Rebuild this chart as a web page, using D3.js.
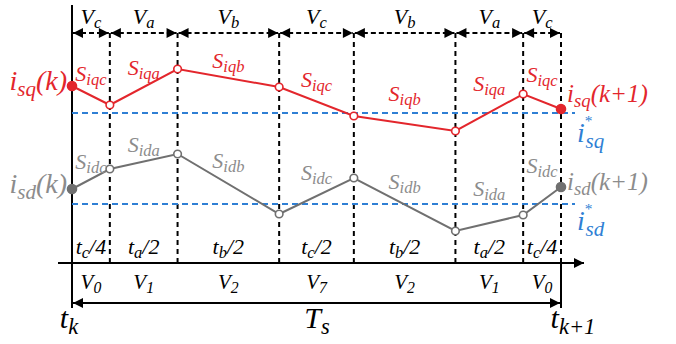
<!DOCTYPE html>
<meta charset="utf-8">
<script src="https://d3js.org/d3.v7.min.js"></script>
<body style="margin:0">
<script>
(function() {

// durations of the seven switching intervals (one period Ts)
var durations = [38, 68, 102, 75, 102, 68, 38];
var activeVec = ["c", "a", "b", "c", "b", "a", "c"];
var timeLabels = [["c", "/4"], ["a", "/2"], ["b", "/2"], ["c", "/2"], ["b", "/2"], ["a", "/2"], ["c", "/4"]];
var vectorLabels = ["0", "1", "2", "7", "2", "1", "0"];

// current values at the interval boundaries
var isqValues = [8.7, 7.75, 9.55, 8.65, 7.2, 6.45, 8.3, 7.55];
var isdValues = [3.55, 4.55, 5.3, 2.3, 4.1, 1.45, 2.25, 3.65];
var isqRef = 7.35,
    isdRef = 2.8;

var W = 676,
    H = 344;

var cRed = "#e3262c",
    cGrey = "#707070",
    cGreyText = "#8c8c8c",
    cBlue = "#2f7fd4";

var bounds = [0];
durations.forEach(function(d, i) { bounds.push(bounds[i] + d); });

var xs = d3.scaleLinear().domain([0, d3.sum(durations)]).range([72, 561]);
var ys = d3.scaleLinear().domain([0, 10]).range([260, 60]);

var svg = d3.select("body").append("svg")
    .attr("width", W)
    .attr("height", H);

var defs = svg.append("defs");
function addMarker(id, orient) {
  defs.append("marker")
      .attr("id", id)
      .attr("viewBox", "0 0 10 10")
      .attr("refX", 10).attr("refY", 5)
      .attr("markerWidth", 12).attr("markerHeight", 10)
      .attr("markerUnits", "userSpaceOnUse")
      .attr("orient", orient)
    .append("path")
      .attr("d", "M0,0L10,5L0,10Z")
      .attr("fill", "#000");
}
addMarker("arr", "auto");
addMarker("arrs", "auto-start-reverse");

// text with sub/superscripts: parts = [[str, kind, dx, style], ...]
function addLabel(px, py, parts, size, color, anchor) {
  var t = svg.append("text")
      .attr("x", px).attr("y", py)
      .attr("fill", color)
      .style("font-family", "Liberation Serif")
      .style("font-style", "italic")
      .attr("font-size", size)
      .attr("text-anchor", anchor || "middle");
  var shift = 0;
  parts.forEach(function(p) {
    var kind = p[1] || "n";
    var target = kind == "sub" ? size * 0.2 : kind == "sup" ? -size * 0.56 : 0;
    var fs = kind == "n" ? size : kind == "sup" ? size * 0.55 : size * 0.75;
    var ts = t.append("tspan")
        .attr("dy", target - shift)
        .style("font-family", "Liberation Serif")
        .style("font-style", p[3] || "italic")
        .attr("font-size", fs)
        .text(p[0]);
    if (p[2]) ts.attr("dx", p[2]);
    shift = target;
  });
  return t;
}

var xTop = 33, xAxisY = 263, tsY = 303, bottomY = 308;

// vertical lines
svg.append("line")
    .attr("x1", xs(0)).attr("x2", xs(0))
    .attr("y1", 5).attr("y2", bottomY)
    .attr("stroke", "#000").attr("stroke-width", 2);

svg.selectAll(".vdash")
    .data(bounds.slice(1))
  .enter().append("line")
    .attr("x1", function(d) { return xs(d); })
    .attr("x2", function(d) { return xs(d); })
    .attr("y1", xTop).attr("y2", xAxisY)
    .attr("stroke", "#000").attr("stroke-width", 2)
    .attr("stroke-dasharray", "5,4");

svg.append("line")
    .attr("x1", xs(bounds[7])).attr("x2", xs(bounds[7]))
    .attr("y1", xAxisY).attr("y2", bottomY)
    .attr("stroke", "#000").attr("stroke-width", 2);

// top interval arrows
svg.selectAll(".seg")
    .data(durations)
  .enter().append("line")
    .attr("x1", function(d, i) { return xs(bounds[i]) + 1; })
    .attr("x2", function(d, i) { return xs(bounds[i + 1]) - 1; })
    .attr("y1", xTop).attr("y2", xTop)
    .attr("stroke", "#000").attr("stroke-width", 2)
    .attr("stroke-dasharray", "5,3")
    .attr("marker-start", "url(#arrs)")
    .attr("marker-end", "url(#arr)");

activeVec.forEach(function(v, i) {
  addLabel(xs(bounds[i] + durations[i] / 2), 24, [["V"], [v, "sub"]], 22, "#000");
});

// reference lines
[isqRef, isdRef].forEach(function(r) {
  svg.append("line")
      .attr("x1", xs(0)).attr("x2", 575)
      .attr("y1", ys(r)).attr("y2", ys(r))
      .attr("stroke", cBlue).attr("stroke-width", 2)
      .attr("stroke-dasharray", "6,4");
});

// current trajectories
function trajectory(vals, color, lw) {
  var pts = vals.map(function(v, i) { return [xs(bounds[i]), ys(v)]; });
  svg.append("path")
      .attr("d", d3.line()(pts))
      .attr("fill", "none")
      .attr("stroke", color).attr("stroke-width", lw);
  svg.selectAll(null)
      .data(pts)
    .enter().append("circle")
      .attr("cx", function(d) { return d[0]; })
      .attr("cy", function(d) { return d[1]; })
      .attr("r", function(d, i) { return (i == 0 || i == pts.length - 1) ? 4.5 : 3.8; })
      .attr("fill", function(d, i) { return (i == 0 || i == pts.length - 1) ? color : "#fff"; })
      .attr("stroke", color).attr("stroke-width", 1.6);
  return pts;
}
var qPts = trajectory(isqValues, cRed, 2);
var dPts = trajectory(isdValues, cGrey, 2);

// slope labels
var qDy = [-15, -12, -10, -15, -23, -22, -20];
var dDy = [-10, -10, -16, -16, -16, -27, -28];
activeVec.forEach(function(v, i) {
  var cx = xs(bounds[i] + durations[i] / 2);
  addLabel(cx, (qPts[i][1] + qPts[i + 1][1]) / 2 + qDy[i], [["S"], ["iq" + v, "sub"]], 22, cRed);
  addLabel(cx, (dPts[i][1] + dPts[i + 1][1]) / 2 + dDy[i], [["S"], ["id" + v, "sub"]], 22, cGreyText);
});

// end point labels
addLabel(67, qPts[0][1] + 4, [["i"], ["sq", "sub"], ["(k)"]], 28, cRed, "end");
addLabel(67, dPts[0][1] + 4, [["i"], ["sd", "sub"], ["(k)"]], 28, cGreyText, "end");
addLabel(567, 102, [["i"], ["sq", "sub"], ["(k+1)"]], 25, cRed, "start");
addLabel(567, 190, [["i"], ["sd", "sub"], ["(k+1)"]], 25, cGreyText, "start");

// reference labels (one text each: i, star above, subscript)
addLabel(577, 142, [["i"], ["*", "sup", 0, "normal"], ["sq", "sub", -7]], 28, cBlue, "start");
addLabel(577, 230, [["i"], ["*", "sup", 0, "normal"], ["sd", "sub", -7]], 28, cBlue, "start");

// time axis
svg.append("line")
    .attr("x1", 58).attr("x2", 584)
    .attr("y1", xAxisY).attr("y2", xAxisY)
    .attr("stroke", "#000").attr("stroke-width", 2)
    .attr("marker-end", "url(#arr)");

timeLabels.forEach(function(t, i) {
  var cx = xs(bounds[i] + durations[i] / 2);
  addLabel(cx, 254, [["t"], [t[0], "sub"], [t[1]]], 22, "#000");
  addLabel(cx, 289, [["V"], [vectorLabels[i], "sub"]], 21, "#000");
});

// period arrow
svg.append("line")
    .attr("x1", xs(0) + 1).attr("x2", xs(bounds[7]) - 1)
    .attr("y1", tsY).attr("y2", tsY)
    .attr("stroke", "#000").attr("stroke-width", 2)
    .attr("marker-start", "url(#arrs)")
    .attr("marker-end", "url(#arr)");

addLabel(xs(0) - 3, 328, [["t"], ["k", "sub"]], 30, "#000");
addLabel(317, 328, [["T"], ["s", "sub"]], 30, "#000");
addLabel(xs(bounds[7]) + 12, 328, [["t"], ["k+1", "sub"]], 30, "#000");

})();
</script>
</body>
